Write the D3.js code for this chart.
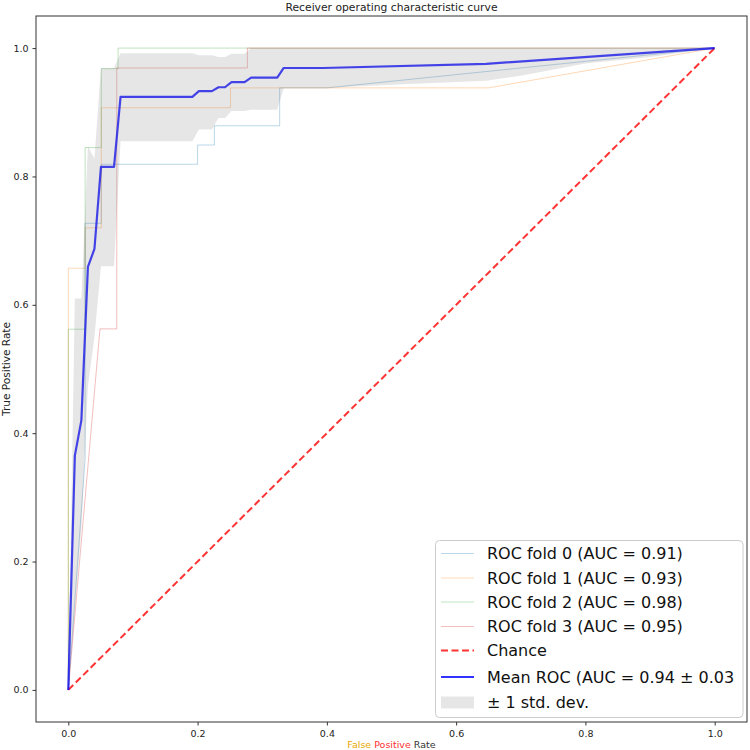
<!DOCTYPE html>
<html><head><meta charset="utf-8">
<script src="https://cdn.jsdelivr.net/npm/d3@7"></script>
<style>body{margin:0;background:#fff}svg{display:block}text{font-family:"DejaVu Sans",sans-serif}</style>
</head><body>
<svg id="c" width="750" height="750"></svg>
<script>
// ---- data ----
const foldLabels = ["ROC fold 0 (AUC = 0.91)","ROC fold 1 (AUC = 0.93)","ROC fold 2 (AUC = 0.98)","ROC fold 3 (AUC = 0.95)"];
const fold0Fpr = [0, 0.026, 0.026, 0.051, 0.051, 0.200, 0.200, 0.226, 0.226, 0.327, 0.327, 0.400, 1.0];
const fold0Tpr = [0, 0.360, 0.727, 0.727, 0.819, 0.819, 0.849, 0.849, 0.879, 0.879, 0.938, 0.938, 1.0];
const fold1Fpr = [0, 0, 0.026, 0.026, 0.051, 0.051, 0.251, 0.251, 0.650, 1.0];
const fold1Tpr = [0, 0.657, 0.657, 0.720, 0.720, 0.907, 0.907, 0.938, 0.938, 1.0];
const fold2Fpr = [0, 0, 0.026, 0.026, 0.051, 0.051, 0.077, 0.077, 1.0];
const fold2Tpr = [0, 0.562, 0.562, 0.845, 0.845, 0.968, 0.968, 1.0, 1.0];
const fold3Fpr = [0, 0.049, 0.075, 0.075, 0.277, 0.277, 1.0];
const fold3Tpr = [0, 0.5625, 0.5625, 0.969, 0.969, 1.0, 1.0];

const meanFpr = [0, 0.0101, 0.0202, 0.0303, 0.0404, 0.0505, 0.0707, 0.0808, 0.1919, 0.2020, 0.2222, 0.2323, 0.2424, 0.2525, 0.2727, 0.2828, 0.3232, 0.3333, 0.3939, 0.6465, 1.0];
const meanTpr = [0, 0.365, 0.420, 0.659, 0.687, 0.815, 0.815, 0.924, 0.924, 0.933, 0.933, 0.939, 0.939, 0.947, 0.947, 0.954, 0.954, 0.969, 0.969, 0.9755, 1.0];

const bandFpr   = [0, 0.0101, 0.0202, 0.0303, 0.0404, 0.0505, 0.0707, 0.0808, 0.1919, 0.2020, 0.2222, 0.2323, 0.2424, 0.2525, 0.2727, 0.2828, 0.3232, 0.3333, 0.3939, 0.5, 0.6465, 0.7, 0.8, 0.9, 1.0];
const bandUpper = [0, 0.610, 0.610, 0.847, 0.828, 0.969, 0.969, 0.992, 0.992, 0.989, 0.989, 0.986, 0.986, 0.991, 0.991, 1.0, 1.0, 1.0, 1.0, 1.0, 1.0, 1.0, 1.0, 1.0, 1.0];
const bandLower = [0, 0.126, 0.252, 0.473, 0.550, 0.660, 0.660, 0.855, 0.855, 0.873, 0.873, 0.891, 0.891, 0.902, 0.902, 0.904, 0.904, 0.938, 0.938, 0.943, 0.949, 0.957, 0.976, 0.986, 1.0];

const chanceX = [0, 1];
const chanceY = [0, 1];
const tickValues = [0, 0.2, 0.4, 0.6, 0.8, 1.0];
const meanLabel = "Mean ROC (AUC = 0.94 \u00b1 0.03";
const stdLabel = "\u00b1 1 std. dev.";
const chanceLabel = "Chance";
const xLabelWords = ["False", "Positive", "Rate"];
const xLabelColors = ["#e8a800", "#ff3030", "#333333"];
const foldColors = ["#1f77b4", "#ff7f0e", "#2ca02c", "#d62728"];

// ---- drawing ----
const svg = d3.select("#c");
const L = 36, R = 747, T = 16, B = 722;
const x = d3.scaleLinear().domain([-0.05, 1.05]).range([L, R]);
const y = d3.scaleLinear().domain([-0.05, 1.05]).range([B, T]);

const folds = [[fold0Fpr, fold0Tpr], [fold1Fpr, fold1Tpr], [fold2Fpr, fold2Tpr], [fold3Fpr, fold3Tpr]];
const line = d3.line().x(d => x(d[0])).y(d => y(d[1]));

const plot = svg.append("g");
folds.forEach((f, i) => {
  plot.append("path").datum(d3.zip(f[0], f[1])).attr("d", line)
    .attr("fill", "none").attr("stroke", foldColors[i]).attr("stroke-opacity", 0.3).attr("stroke-width", 1);
});
plot.append("path").datum(d3.zip(chanceX, chanceY)).attr("d", line)
  .attr("fill", "none").attr("stroke", "#ff0000").attr("stroke-opacity", 0.8)
  .attr("stroke-width", 2).attr("stroke-dasharray", "7,3.5");
plot.append("path").datum(d3.zip(meanFpr, meanTpr)).attr("d", line)
  .attr("fill", "none").attr("stroke", "#0000ff").attr("stroke-opacity", 0.8).attr("stroke-width", 2.2)
  .attr("stroke-linejoin", "round");
const area = d3.area().x(d => x(d[0])).y0(d => y(d[1])).y1(d => y(d[2]));
plot.append("path").datum(d3.zip(bandFpr, bandLower, bandUpper)).attr("d", area)
  .attr("fill", "#808080").attr("fill-opacity", 0.2).attr("stroke", "none");

// axes
const xAxis = svg.append("g").attr("transform", `translate(0,${B})`)
  .call(d3.axisBottom(x).tickValues(tickValues).tickFormat(d3.format(".1f")).tickSize(3.5).tickPadding(5));
const yAxis = svg.append("g").attr("transform", `translate(${L},0)`)
  .call(d3.axisLeft(y).tickValues(tickValues).tickFormat(d3.format(".1f")).tickSize(3.5).tickPadding(4));
[xAxis, yAxis].forEach(a => {
  a.select(".domain").remove();
  a.selectAll("text").attr("font-size", 9.5).attr("fill", "#222").style("font-family", "'DejaVu Sans', sans-serif");
  a.selectAll("line").attr("stroke", "#333");
});
svg.append("rect").attr("x", L).attr("y", T).attr("width", R - L).attr("height", B - T)
  .attr("fill", "none").attr("stroke", "#333").attr("stroke-width", 1);

// title & labels
svg.append("text").attr("x", (L + R) / 2).attr("y", 11).attr("text-anchor", "middle")
  .attr("font-size", 11).attr("fill", "#222").attr("textLength", 212).attr("lengthAdjust", "spacingAndGlyphs")
  .text("Receiver operating characteristic curve");
// x label: words laid out one after another
const xlG = svg.append("g");
const xlTexts = xLabelWords.map((w, i) => xlG.append("text").attr("y", 748).attr("font-size", 9.5)
  .attr("fill", xLabelColors[i]).text(w));
const space = 3;
const widths = xlTexts.map(t => t.node().getComputedTextLength());
const total = d3.sum(widths) + space * (widths.length - 1);
let cx = (L + R) / 2 - total / 2;
xlTexts.forEach((t, i) => { t.attr("x", cx); cx += widths[i] + space; });

svg.append("text").attr("transform", `translate(10,${(T + B) / 2}) rotate(-90)`).attr("text-anchor", "middle")
  .attr("font-size", 10).attr("fill", "#222").attr("textLength", 94).attr("lengthAdjust", "spacingAndGlyphs")
  .text("True Positive Rate");

// legend
const lg = svg.append("g");
lg.append("rect").attr("x", 435.5).attr("y", 540.5).attr("width", 307.5).attr("height", 177)
  .attr("rx", 4).attr("fill", "#fff").attr("fill-opacity", 0.8).attr("stroke", "#cccccc").attr("stroke-width", 1);
const rowsY = [553.5, 578, 602, 626.5, 650.5, 677, 702.5];
const hx0 = 441, hx1 = 474, tx = 487;
foldLabels.forEach((lab, i) => {
  lg.append("line").attr("x1", hx0).attr("x2", hx1).attr("y1", rowsY[i]).attr("y2", rowsY[i])
    .attr("stroke", foldColors[i]).attr("stroke-opacity", 0.3).attr("stroke-width", 1);
  lg.append("text").attr("x", tx).attr("y", rowsY[i]).attr("dy", "0.36em").attr("font-size", 16).attr("fill", "#111").text(lab);
});
lg.append("line").attr("x1", hx0).attr("x2", hx1).attr("y1", rowsY[4]).attr("y2", rowsY[4])
  .attr("stroke", "#ff0000").attr("stroke-opacity", 0.8).attr("stroke-width", 2).attr("stroke-dasharray", "7,3.5");
lg.append("text").attr("x", tx).attr("y", rowsY[4]).attr("dy", "0.36em").attr("font-size", 16).attr("fill", "#111").text(chanceLabel);
lg.append("line").attr("x1", hx0).attr("x2", hx1).attr("y1", rowsY[5]).attr("y2", rowsY[5])
  .attr("stroke", "#0000ff").attr("stroke-opacity", 0.8).attr("stroke-width", 2.2);
lg.append("text").attr("x", tx).attr("y", rowsY[5]).attr("dy", "0.36em").attr("font-size", 16).attr("fill", "#111").text(meanLabel);
lg.append("rect").attr("x", hx0).attr("y", rowsY[6] - 6).attr("width", hx1 - hx0).attr("height", 12)
  .attr("fill", "#808080").attr("fill-opacity", 0.2);
lg.append("text").attr("x", tx).attr("y", rowsY[6]).attr("dy", "0.36em").attr("font-size", 16).attr("fill", "#111").text(stdLabel);
</script>
</body></html>
